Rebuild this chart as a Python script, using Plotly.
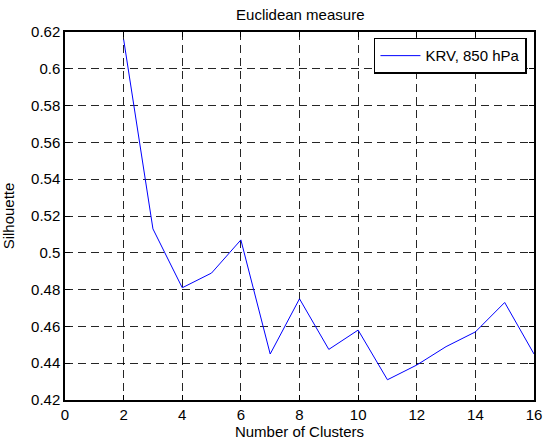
import plotly.graph_objects as go

clusters = [2, 3, 4, 5, 6, 7, 8, 9, 10, 11, 12, 13, 14, 15, 16]
silhouette = [0.616, 0.513, 0.481, 0.489, 0.507, 0.445, 0.475, 0.4475, 0.458,
              0.431, 0.439, 0.449, 0.457, 0.473, 0.445]
x_ticks = [0, 2, 4, 6, 8, 10, 12, 14, 16]
y_ticks = [0.42, 0.44, 0.46, 0.48, 0.5, 0.52, 0.54, 0.56, 0.58, 0.6, 0.62]
y_tick_text = ["0.42", "0.44", "0.46", "0.48", "0.5", "0.52", "0.54", "0.56", "0.58", "0.6", "0.62"]

fig = go.Figure()
fig.add_trace(go.Scatter(x=clusters, y=silhouette, mode="lines",
                         name="KRV, 850 hPa", line=dict(color="#0000ff", width=1)))

font = "Liberation Sans, Arial, sans-serif"
axis_common = dict(
    showline=True, linecolor="black", linewidth=1.5, mirror="ticks",
    ticks="inside", ticklen=5, tickcolor="black", automargin=False,
    showgrid=True, gridcolor="rgba(0,0,0,0.85)", gridwidth=1, griddash="8px,5px",
    zeroline=False, tickfont=dict(family=font, size=15, color="black"),
)
fig.update_xaxes(range=[0, 16], tickvals=x_ticks, **axis_common,
                 title=dict(text="Number of Clusters", font=dict(family=font, size=15, color="black"), standoff=4))
fig.update_yaxes(range=[0.42, 0.62], tickvals=y_ticks, ticktext=y_tick_text, **axis_common,
                 title=dict(text="Silhouette", font=dict(family=font, size=15, color="black"), standoff=13))

fig.update_layout(
    width=544, height=443,
    margin=dict(l=65, r=10, t=32, b=43),
    paper_bgcolor="white", plot_bgcolor="white",
    title=dict(text="Euclidean measure", x=0.552, xanchor="center", y=0.966, yanchor="middle",
               font=dict(family=font, size=15, color="black")),
    showlegend=True,
    legend=dict(x=0.985, y=0.984, xanchor="right", yanchor="top",
                bordercolor="black", borderwidth=1.5, bgcolor="white",
                font=dict(family=font, size=15, color="black"),
                itemwidth=40, tracegroupgap=0),
)
fig.write_html("out.html", config={"displayModeBar": False},
               post_script="document.body.style.margin='0';")
